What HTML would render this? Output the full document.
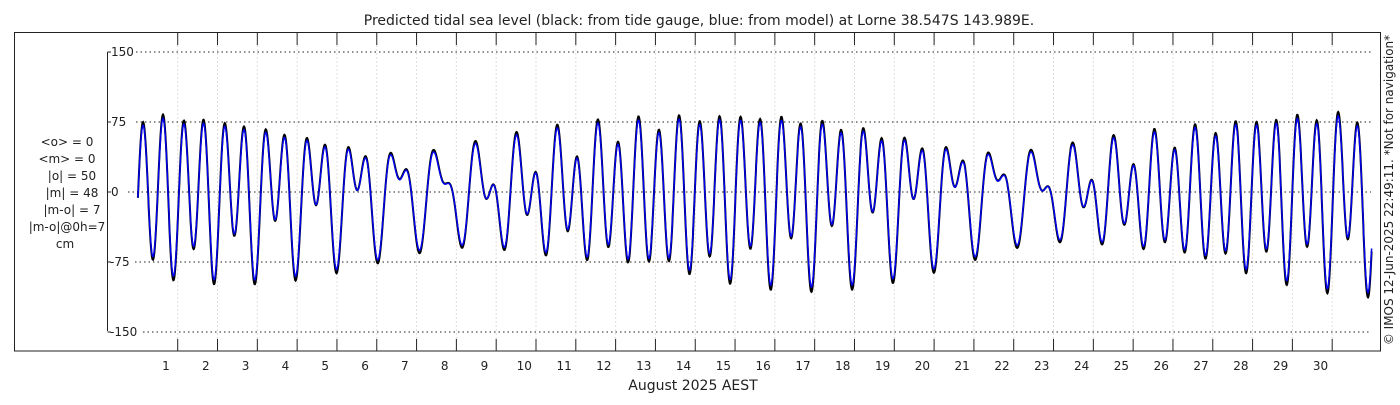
<!DOCTYPE html>
<html><head><meta charset="utf-8"><style>
html,body{margin:0;padding:0;background:#fff;}
svg text{font-family:"DejaVu Sans","Liberation Sans",sans-serif;fill:#222;}
</style></head><body>
<svg id="s" width="1400" height="400" xmlns="http://www.w3.org/2000/svg">
<rect x="0" y="0" width="1400" height="400" fill="#fff"/>
<text x="699" y="25" font-size="14" text-anchor="middle">Predicted tidal sea level (black: from tide gauge, blue: from model) at Lorne 38.547S 143.989E.</text>
<rect x="14.5" y="32.5" width="1366" height="318.5" fill="none" stroke="#222" stroke-width="1"/>
<g id="grid"></g>
<g font-size="12" text-anchor="middle">
<text x="67" y="146">&lt;o&gt; = 0</text>
<text x="67" y="163">&lt;m&gt; = 0</text>
<text x="72" y="180">|o| = 50</text>
<text x="72" y="197">|m| = 48</text>
<text x="72" y="214">|m-o| = 7</text>
<text x="67" y="231">|m-o|@0h=7</text>
<text x="65" y="248">cm</text>
</g>
<g id="ylab" font-size="12"></g>
<g id="xlab" font-size="12" text-anchor="middle"></g>
<path id="black" fill="none" stroke="#000" stroke-width="2"/>
<path id="blue" fill="none" stroke="#0000ee" stroke-width="1.5"/>
<text x="693" y="390" font-size="14" text-anchor="middle">August 2025 AEST</text>
<text transform="translate(1393,190) rotate(-90)" font-size="12" text-anchor="middle">© IMOS 12-Jun-2025 22:49:11. *Not for navigation*</text>
</svg>
<script>
var NS="http://www.w3.org/2000/svg";
function el(p,t,a,txt){var e=document.createElementNS(NS,t);for(var k in a)e.setAttribute(k,a[k]);if(txt!=null)e.textContent=txt;document.getElementById(p).appendChild(e);return e;}
var x0=137.9,dx=39.81,y0=192,sy=70/75;
for(var d=1;d<=30;d++){var x=x0+d*dx;
 el("grid","line",{x1:x,x2:x,y1:45,y2:339,stroke:"#e4dcd8","stroke-width":1,"stroke-dasharray":"2,2"});
 el("grid","line",{x1:x,x2:x,y1:33,y2:45,stroke:"#222","stroke-width":1});
 el("grid","line",{x1:x,x2:x,y1:339,y2:351,stroke:"#222","stroke-width":1});
 el("xlab","text",{x:166+(d-1)*dx,y:370},String(d));
}
el("grid","line",{x1:107.5,x2:107.5,y1:52,y2:331,stroke:"#222","stroke-width":1});
[150,75,0,-75,-150].forEach(function(v){var y=y0-v*sy;
 el("grid","line",{x1:107.5,x2:111,y1:y,y2:y,stroke:"#222","stroke-width":1});
 el("grid","line",{x1:(v==0?128:(v==-150?143:(v==-75?135:136))),x2:1371,y1:y,y2:y,stroke:"#222","stroke-width":1,"stroke-dasharray":"1.5,3"});
 el("ylab","text",{x:v<0?110:111,y:y+4},v==0?"0":String(v));
});
var P=2*Math.PI,a=-1.516,b=a-6.34,c=2.868,dd=5.858;
function h(t,k){return k*(49*Math.cos(P*1.9323*t+a)+28*Math.cos(P*2*t+b)+24*Math.cos(P*1.0027*t+c)+17*Math.cos(P*0.9295*t+dd))-1;}
var pb="",pu="";
for(var i=0;i<=3100;i++){var t=i/100,x=x0+t*dx;if(x>1372)break;
 pb+=(i?"L":"M")+x.toFixed(1)+","+(y0-h(t,1.05)*sy).toFixed(1);
 pu+=(i?"L":"M")+x.toFixed(1)+","+(y0-h(t,1.0)*sy).toFixed(1);}
document.getElementById("black").setAttribute("d",pb);
document.getElementById("blue").setAttribute("d",pu);
</script>
</body></html>
